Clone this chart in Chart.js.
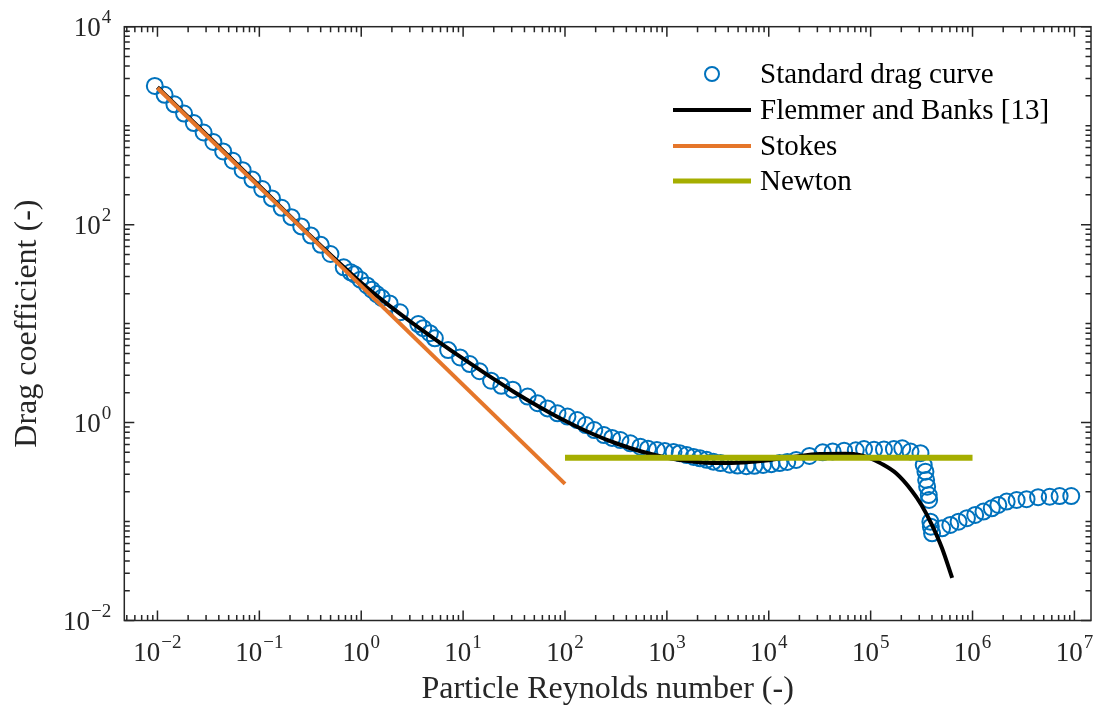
<!DOCTYPE html>
<html>
<head>
<meta charset="utf-8">
<script src="https://cdn.jsdelivr.net/npm/chart.js@4.4.1/dist/chart.umd.min.js"></script>
<style>
  html, body { margin: 0; padding: 0; background: #ffffff; }
  #wrap { width: 1101px; height: 709px; }
</style>
</head>
<body>
<div id="wrap"><canvas id="c" width="1101" height="709"></canvas></div>
<script>
// Standard drag curve (measured points)
const stdRe = [
  0.00942, 0.01175, 0.01466, 0.01824, 0.02275, 0.02838, 0.0354, 0.04416, 0.05495, 0.06855,
  0.08551, 0.1067, 0.133, 0.1656, 0.2065, 0.2576, 0.3214, 0.4009, 0.4992,
  0.673, 0.79, 0.86, 0.98, 1.14, 1.27, 1.42, 1.59, 1.9, 2.4,
  3.63, 4.06, 4.72, 5.28, 7.13, 9.33, 11.6, 14.5, 18.8, 23.7,
  30.7, 43, 53.9, 67.4, 84.4, 105.7, 132, 160, 194, 241,
  290, 350, 438, 549, 653, 798, 955, 1161, 1337, 1566,
  1832, 2113, 2455, 2856, 3364, 4150, 4930, 6040, 7230, 8790,
  10590, 12760, 15180, 18570, 25060, 33840, 42360, 54950, 71450, 86100,
  107900, 135100, 169100, 204200, 246200, 308400, 332000, 345000, 350600, 358500,
  371800, 375000, 385600, 390000, 400700, 502000, 605000, 729500, 881000, 1062000,
  1280000, 1545000, 1792000, 2163000, 2710000, 3390000, 4400000, 5720000, 7160000, 9310000
];
const stdCd = [
  2520, 2050, 1645, 1325, 1063, 853, 684, 549, 442, 355,
  285, 229, 184, 148, 119, 96, 77.5, 62.5, 50.5,
  37, 33, 31.5, 27.8, 24.3, 22.0, 19.9, 18.2, 16.0, 13.0,
  9.9, 9.0, 8.0, 7.1, 5.4, 4.55, 3.9, 3.3, 2.65, 2.35,
  2.15, 1.83, 1.57, 1.39, 1.24, 1.15, 1.06, 0.944, 0.84, 0.748,
  0.70, 0.666, 0.617, 0.57, 0.545, 0.528, 0.515, 0.505, 0.49, 0.47,
  0.45, 0.435, 0.42, 0.403, 0.39, 0.375, 0.368, 0.362, 0.366, 0.373,
  0.38, 0.39, 0.40, 0.419, 0.46, 0.50, 0.51, 0.52, 0.525, 0.54,
  0.53, 0.535, 0.54, 0.55, 0.51, 0.49, 0.372, 0.319, 0.263, 0.225,
  0.185, 0.165, 0.0996, 0.0887, 0.076, 0.0855, 0.0923, 0.0996, 0.108, 0.1165,
  0.126, 0.136, 0.147, 0.159, 0.165, 0.168, 0.176, 0.178, 0.181, 0.181
];

// Flemmer and Banks correlation
const fbRe = [
  0.01, 0.0316, 0.1, 0.316, 1, 1.778, 3.162, 5.623, 10, 17.78,
  31.62, 56.23, 100, 177.8, 316.2, 562.3, 1000, 1778, 3162, 5623,
  10000, 17783, 31623, 56234, 79433, 100000, 125893, 177828, 251189, 316228,
  398107, 501187, 630957
];
const fbCd = [
  2448, 779, 246, 77.2, 25.84, 15.91, 10.18, 6.66, 4.42, 2.98,
  2.04, 1.44, 1.044, 0.785, 0.618, 0.510, 0.4415, 0.404, 0.390, 0.396,
  0.417, 0.452, 0.480, 0.483, 0.469, 0.434, 0.387, 0.307, 0.207, 0.146,
  0.0932, 0.0541, 0.027
];

// Stokes regime, Cd = 24/Re
const stokesRe = [0.01, 100];
const stokesCd = [2400, 0.24];

// Newton regime, Cd = 0.44
const newtonRe = [100, 1000000];
const newtonCd = [0.44, 0.44];

// Tick labels (powers of ten)
const xTickExps = [-2, -1, 0, 1, 2, 3, 4, 5, 6, 7];
const yTickExps = [-2, 0, 2, 4];

const seriesNames = ['Standard drag curve', 'Flemmer and Banks [13]', 'Stokes', 'Newton'];
const xTitle = 'Particle Reynolds number (-)';
const yTitle = 'Drag coefficient (-)';

const toXY = (xs, ys) => xs.map((v, i) => ({ x: v, y: ys[i] }));

const AXIS_COLOR = '#262626';
const SERIF = '"Liberation Serif", "Times New Roman", serif';

function superMinus(e) {
  return e < 0 ? '\u2212' + Math.abs(e) : String(e);
}

// Draws "10" with a raised exponent; align is 'center' or 'right'
function drawPower(ctx, e, x, baseline, align) {
  const baseFont = '27px ' + SERIF;
  const expFont = '19px ' + SERIF;
  const expStr = superMinus(e);
  ctx.font = baseFont;
  const wb = ctx.measureText('10').width;
  ctx.font = expFont;
  const we = ctx.measureText(expStr).width;
  const total = wb + 1 + we;
  const x0 = align === 'right' ? x - total : x - total / 2;
  ctx.textAlign = 'left';
  ctx.textBaseline = 'alphabetic';
  ctx.font = baseFont;
  ctx.fillText('10', x0, baseline);
  ctx.font = expFont;
  ctx.fillText(expStr, x0 + wb + 1, baseline - 13);
}

const axesPlugin = {
  id: 'boxedLogAxes',
  afterDatasetsDraw(chart) {
    const { ctx, chartArea: a, scales } = chart;
    const xs = scales.x, ys = scales.y;
    ctx.save();
    ctx.strokeStyle = AXIS_COLOR;
    ctx.fillStyle = AXIS_COLOR;
    ctx.lineWidth = 1.5;
    ctx.lineCap = 'butt';

    const majorLen = 10, minorLen = 5.5;

    // x ticks (bottom and top, pointing inward)
    const xe0 = Math.floor(Math.log10(xs.min)), xe1 = Math.ceil(Math.log10(xs.max));
    ctx.beginPath();
    for (let e = xe0; e <= xe1; e++) {
      for (let m = 1; m <= 9; m++) {
        const v = m * Math.pow(10, e);
        if (v < xs.min || v > xs.max) continue;
        const px = xs.getPixelForValue(v);
        const len = m === 1 ? majorLen : minorLen;
        ctx.moveTo(px, a.bottom); ctx.lineTo(px, a.bottom - len);
        ctx.moveTo(px, a.top); ctx.lineTo(px, a.top + len);
      }
    }
    // y ticks (left and right)
    const ye0 = Math.floor(Math.log10(ys.min)), ye1 = Math.ceil(Math.log10(ys.max));
    for (let e = ye0; e <= ye1; e++) {
      for (let m = 1; m <= 9; m++) {
        const v = m * Math.pow(10, e);
        if (v < ys.min * 0.999 || v > ys.max * 1.001) continue;
        const py = ys.getPixelForValue(v);
        const len = (m === 1 && yTickExps.includes(e)) ? majorLen : minorLen;
        ctx.moveTo(a.left, py); ctx.lineTo(a.left + len, py);
        ctx.moveTo(a.right, py); ctx.lineTo(a.right - len, py);
      }
    }
    ctx.stroke();

    // box
    ctx.strokeRect(a.left, a.top, a.right - a.left, a.bottom - a.top);

    // tick labels
    xTickExps.forEach(e => {
      const px = xs.getPixelForValue(Math.pow(10, e));
      drawPower(ctx, e, px, a.bottom + 40, 'center');
    });
    yTickExps.forEach(e => {
      const py = ys.getPixelForValue(Math.pow(10, e));
      drawPower(ctx, e, a.left - 13, py + 9, 'right');
    });

    // axis titles
    ctx.font = '32px ' + SERIF;
    ctx.textAlign = 'center';
    ctx.textBaseline = 'alphabetic';
    ctx.fillText(xTitle, (a.left + a.right) / 2, 698);
    ctx.save();
    ctx.translate(36, (a.top + a.bottom) / 2);
    ctx.rotate(-Math.PI / 2);
    ctx.fillText(yTitle, 0, 0);
    ctx.restore();

    // legend (no box)
    const rows = [74, 110, 146, 181];
    const lx0 = 673, lx1 = 751, tx = 760;
    chart.data.datasets.forEach((ds, i) => {
      const ry = rows[i];
      if (ds.showLine === false) {
        ctx.beginPath();
        ctx.lineWidth = ds.pointBorderWidth;
        ctx.strokeStyle = ds.pointBorderColor;
        ctx.arc((lx0 + lx1) / 2, ry, 7, 0, Math.PI * 2);
        ctx.stroke();
      } else {
        ctx.beginPath();
        ctx.lineWidth = Math.min(ds.borderWidth, 5);
        ctx.strokeStyle = ds.borderColor;
        ctx.moveTo(lx0, ry); ctx.lineTo(lx1, ry);
        ctx.stroke();
      }
      ctx.fillStyle = '#000000';
      ctx.font = '29px ' + SERIF;
      ctx.textAlign = 'left';
      ctx.textBaseline = 'alphabetic';
      ctx.fillText(ds.label, tx, ry + 9);
    });
    ctx.restore();
  }
};

new Chart(document.getElementById('c'), {
  type: 'scatter',
  data: {
    datasets: [
      {
        label: seriesNames[0],
        data: toXY(stdRe, stdCd),
        showLine: false,
        pointStyle: 'circle',
        pointRadius: 8,
        pointBorderWidth: 2,
        pointBorderColor: '#0072BD',
        pointBackgroundColor: 'rgba(0,0,0,0)',
        borderColor: '#0072BD',
        order: 4
      },
      {
        label: seriesNames[1],
        data: toXY(fbRe, fbCd),
        showLine: true,
        borderColor: '#000000',
        borderWidth: 4,
        pointRadius: 0,
        cubicInterpolationMode: 'monotone',
        order: 3
      },
      {
        label: seriesNames[2],
        data: toXY(stokesRe, stokesCd),
        showLine: true,
        borderColor: '#E5762A',
        borderWidth: 4,
        pointRadius: 0,
        order: 2
      },
      {
        label: seriesNames[3],
        data: toXY(newtonRe, newtonCd),
        showLine: true,
        borderColor: '#A5AE00',
        borderWidth: 6,
        pointRadius: 0,
        order: 1
      }
    ]
  },
  options: {
    responsive: false,
    animation: false,
    events: [],
    layout: { padding: { left: 124.3, top: 26.7, right: 4.5, bottom: 88.5 } },
    scales: {
      x: { type: 'logarithmic', min: 0.004726, max: 14550000, bounds: 'data', display: false },
      y: { type: 'logarithmic', min: 0.01, max: 10000, bounds: 'data', display: false }
    },
    plugins: {
      legend: { display: false },
      tooltip: { enabled: false }
    }
  },
  plugins: [axesPlugin]
});
</script>
</body>
</html>
